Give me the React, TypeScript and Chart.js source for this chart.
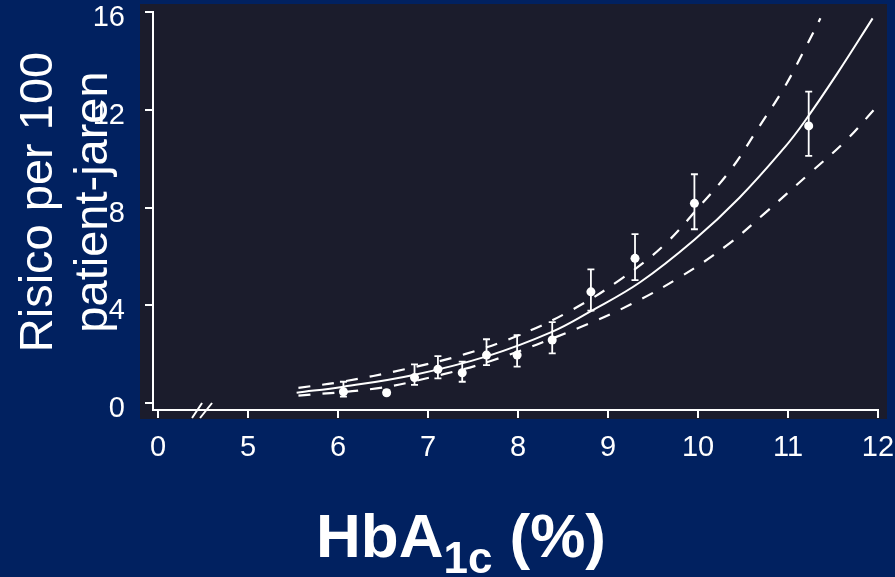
import React, { useEffect, useRef } from 'react';
import { Chart, registerables } from 'chart.js';

Chart.register(...registerables);

// Observed points (HbA1c %, risk per 100 patient-years) with error bars
const hba1c = [6.06, 6.54, 6.85, 7.11, 7.38, 7.65, 7.99, 8.38, 8.81, 9.30, 9.96, 11.23];
const risk = [0.46, 0.42, 1.04, 1.38, 1.24, 1.96, 1.96, 2.58, 4.55, 5.92, 8.17, 11.34];
const riskLow = [0.26, 0.34, 0.74, 1.01, 0.87, 1.55, 1.49, 2.03, 3.78, 5.03, 7.11, 10.11];
const riskHigh = [0.87, 0.52, 1.58, 1.92, 1.69, 2.61, 2.78, 3.31, 5.47, 6.91, 9.36, 12.74];

// Fitted curve
const fitX = [5.54, 6.06, 6.84, 7.66, 8.37, 8.81, 9.36, 9.96, 10.46, 10.96, 11.18, 11.55, 11.94];
const fitY = [0.42, 0.67, 1.15, 1.92, 2.90, 3.76, 4.95, 6.68, 8.40, 10.45, 11.50, 13.50, 15.74];

// Upper confidence limit (dashed)
const upperX = [5.56, 6.04, 6.74, 7.41, 8.04, 8.61, 9.14, 9.61, 10.02, 10.37, 10.66, 10.96, 11.21, 11.36];
const upperY = [0.62, 0.87, 1.38, 2.00, 2.82, 3.83, 5.06, 6.42, 8.06, 9.58, 11.20, 12.92, 14.65, 15.74];

// Lower confidence limit (dashed)
const lowerX = [5.56, 6.43, 7.06, 7.73, 8.69, 9.26, 9.82, 10.32, 10.74, 11.24, 11.63, 11.98];
const lowerY = [0.30, 0.60, 1.08, 1.76, 3.10, 4.05, 5.20, 6.45, 7.76, 9.40, 10.69, 12.10];

// Axis ticks (x axis has a break: first tick stands for 0)
const xTickValues = [4, 5, 6, 7, 8, 9, 10, 11, 12];
const xTickLabels = ['0', '5', '6', '7', '8', '9', '10', '11', '12'];
const yTickValues = [0, 4, 8, 12, 16];

const yTitleLines = ['Risico per 100', 'patient-jaren'];
const xTitleMain = 'HbA';
const xTitleSub = '1c';
const xTitleTail = ' (%)';

const NAVY = '#012160';
const PANEL = '#1b1c2c';
const FONT = "'Liberation Sans', Arial, sans-serif";

const zip = (xs: number[], ys: number[]) => xs.map((x, i) => ({ x, y: ys[i] }));

const panelPlugin = {
  id: 'panel',
  beforeDraw(chart: any) {
    const { ctx, chartArea } = chart;
    ctx.save();
    ctx.fillStyle = PANEL;
    const l = chartArea.left - 13;
    const t = chartArea.top - 8;
    const r = chartArea.right + 9;
    const b = chartArea.bottom + 9;
    ctx.fillRect(l, t, r - l, b - t);
    ctx.restore();
  },
};

const errorBarPlugin = {
  id: 'errorBars',
  afterDatasetsDraw(chart: any) {
    const { ctx } = chart;
    const x = chart.scales.x;
    const y = chart.scales.y;
    ctx.save();
    ctx.strokeStyle = '#ffffff';
    ctx.lineWidth = 1.8;
    hba1c.forEach((v, i) => {
      const px = x.getPixelForValue(v);
      const top = y.getPixelForValue(riskHigh[i]);
      const bot = y.getPixelForValue(riskLow[i]);
      ctx.beginPath();
      ctx.moveTo(px, top);
      ctx.lineTo(px, bot);
      ctx.moveTo(px - 3.5, top);
      ctx.lineTo(px + 3.5, top);
      ctx.moveTo(px - 3.5, bot);
      ctx.lineTo(px + 3.5, bot);
      ctx.stroke();
    });
    ctx.restore();
  },
};

const decorPlugin = {
  id: 'decor',
  afterDraw(chart: any) {
    const { ctx, chartArea } = chart;
    const x = chart.scales.x;
    ctx.save();
    // axis break marks
    const bx = x.getPixelForValue(4.5);
    const by = chartArea.bottom;
    ctx.strokeStyle = '#ffffff';
    ctx.lineWidth = 2;
    ctx.beginPath();
    ctx.moveTo(bx - 11, by + 8);
    ctx.lineTo(bx - 1, by - 7);
    ctx.moveTo(bx - 3, by + 8);
    ctx.lineTo(bx + 9, by - 7);
    ctx.stroke();

    // y title
    ctx.fillStyle = '#ffffff';
    ctx.font = `47px ${FONT}`;
    ctx.textAlign = 'center';
    ctx.textBaseline = 'alphabetic';
    ctx.translate(0, 202);
    ctx.rotate(-Math.PI / 2);
    ctx.fillText(yTitleLines[0], 0, 52);
    ctx.fillText(yTitleLines[1], 0, 107);
    ctx.restore();

    // x title with subscript
    ctx.save();
    ctx.fillStyle = '#ffffff';
    ctx.textAlign = 'left';
    ctx.textBaseline = 'alphabetic';
    const big = `bold 62px ${FONT}`;
    const small = `bold 44px ${FONT}`;
    ctx.font = big;
    const w1 = ctx.measureText(xTitleMain).width;
    const w3 = ctx.measureText(xTitleTail).width;
    ctx.font = small;
    const w2 = ctx.measureText(xTitleSub).width;
    const total = w1 + w2 + w3;
    let sx = 461 - total / 2;
    ctx.font = big;
    ctx.fillText(xTitleMain, sx, 557);
    sx += w1;
    ctx.font = small;
    ctx.fillText(xTitleSub, sx, 573);
    sx += w2;
    ctx.font = big;
    ctx.fillText(xTitleTail, sx, 557);
    ctx.restore();
  },
};

export default function App() {
  const ref = useRef<HTMLCanvasElement | null>(null);

  useEffect(() => {
    document.body.style.margin = '0';
    const canvas = ref.current;
    if (!canvas) return;
    const chart = new Chart(canvas, {
      type: 'scatter',
      data: {
        datasets: [
          {
            label: 'upper',
            data: zip(upperX, upperY),
            showLine: true,
            borderColor: '#ffffff',
            borderWidth: 2.2,
            borderDash: [12, 12],
            pointRadius: 0,
            tension: 0.4,
          },
          {
            label: 'lower',
            data: zip(lowerX, lowerY),
            showLine: true,
            borderColor: '#ffffff',
            borderWidth: 2.2,
            borderDash: [12, 12],
            pointRadius: 0,
            tension: 0.4,
          },
          {
            label: 'fit',
            data: zip(fitX, fitY),
            showLine: true,
            borderColor: '#ffffff',
            borderWidth: 2,
            pointRadius: 0,
            tension: 0.4,
          },
          {
            label: 'observed',
            data: zip(hba1c, risk),
            showLine: false,
            pointRadius: 4.5,
            pointBackgroundColor: '#ffffff',
            pointBorderWidth: 0,
          },
        ],
      },
      options: {
        animation: false,
        responsive: false,
        maintainAspectRatio: false,
        events: [],
        layout: { padding: { left: 0, right: 17, top: 12, bottom: 0 } },
        plugins: {
          legend: { display: false },
          tooltip: { enabled: false },
        },
        scales: {
          x: {
            type: 'linear',
            min: 3.944,
            max: 12,
            afterBuildTicks: (scale: any) => {
              scale.ticks = xTickValues.map((v) => ({ value: v }));
            },
            afterFit: (scale: any) => {
              scale.height = 167;
              scale.paddingLeft = 0;
              scale.paddingRight = 0;
            },
            ticks: {
              color: '#ffffff',
              font: { family: FONT, size: 29 },
              padding: 13,
              maxRotation: 0,
              autoSkip: false,
              callback: (v: any) => {
                const i = xTickValues.indexOf(Number(v));
                return i >= 0 ? xTickLabels[i] : '';
              },
            },
            grid: {
              drawOnChartArea: false,
              drawTicks: true,
              tickLength: 8,
              color: '#ffffff',
              lineWidth: 2,
            },
            border: { display: true, color: '#ffffff', width: 2 },
          },
          y: {
            type: 'linear',
            min: -0.286,
            max: 16,
            afterBuildTicks: (scale: any) => {
              scale.ticks = yTickValues.map((v) => ({ value: v }));
            },
            afterFit: (scale: any) => {
              scale.width = 153;
              scale.paddingTop = 0;
              scale.paddingBottom = 0;
            },
            ticks: {
              color: '#ffffff',
              font: { family: FONT, size: 29 },
              padding: 20,
              labelOffset: 6,
              autoSkip: false,
              callback: (v: any) => String(v),
            },
            grid: {
              drawOnChartArea: false,
              drawTicks: true,
              tickLength: 8,
              color: '#ffffff',
              lineWidth: 2,
            },
            border: { display: true, color: '#ffffff', width: 2 },
          },
        },
      },
      plugins: [panelPlugin, errorBarPlugin, decorPlugin],
    } as any);
    return () => chart.destroy();
  }, []);

  return (
    <div
      style={{
        position: 'fixed',
        left: 0,
        top: 0,
        width: 895,
        height: 577,
        background: NAVY,
        overflow: 'hidden',
      }}
    >
      <canvas ref={ref} width={895} height={577} style={{ display: 'block', width: 895, height: 577 }} />
    </div>
  );
}
